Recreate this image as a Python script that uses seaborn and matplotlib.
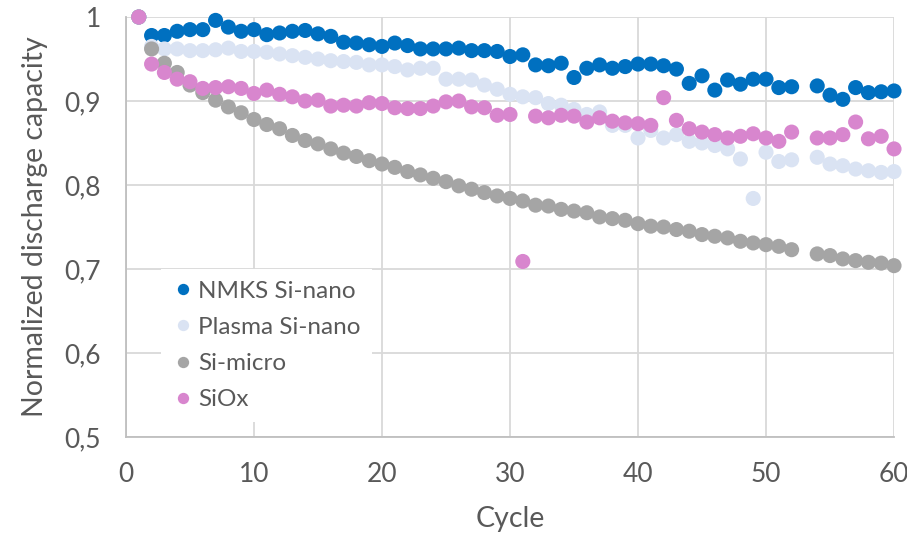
import numpy as np
import pandas as pd
import matplotlib
matplotlib.use("Agg")
import matplotlib.pyplot as plt
from matplotlib.ticker import FuncFormatter
import seaborn as sns

cycles = list(range(1, 53)) + [54, 55, 56, 57, 58, 59, 60]

nmks_si_nano = [1.000, 0.978, 0.978, 0.983, 0.985, 0.985, 0.996, 0.988, 0.983, 0.985,
                0.979, 0.981, 0.983, 0.984, 0.980, 0.977, 0.970, 0.969, 0.967, 0.965,
                0.969, 0.966, 0.962, 0.962, 0.962, 0.963, 0.960, 0.960, 0.959, 0.953,
                0.955, 0.943, 0.942, 0.945, 0.928, 0.939, 0.943, 0.939, 0.941, 0.944,
                0.944, 0.942, 0.938, 0.921, 0.930, 0.913, 0.925, 0.920, 0.926, 0.926,
                0.916, 0.917, 0.918, 0.907, 0.902, 0.916, 0.910, 0.911, 0.912]

plasma_si_nano = [1.000, 0.965, 0.962, 0.962, 0.960, 0.960, 0.961, 0.963, 0.959, 0.959,
                  0.958, 0.956, 0.954, 0.952, 0.950, 0.948, 0.947, 0.946, 0.943, 0.943,
                  0.941, 0.937, 0.939, 0.939, 0.926, 0.926, 0.925, 0.919, 0.914, 0.908,
                  0.905, 0.904, 0.897, 0.895, 0.890, 0.884, 0.887, 0.871, 0.871, 0.856,
                  0.865, 0.856, 0.860, 0.852, 0.850, 0.847, 0.843, 0.831, 0.784, 0.839,
                  0.828, 0.830, 0.833, 0.825, 0.823, 0.819, 0.817, 0.815, 0.816]

si_micro = [1.000, 0.962, 0.945, 0.934, 0.919, 0.910, 0.901, 0.893, 0.886, 0.878,
            0.872, 0.867, 0.859, 0.853, 0.849, 0.843, 0.838, 0.834, 0.829, 0.825,
            0.821, 0.816, 0.812, 0.808, 0.804, 0.799, 0.795, 0.791, 0.787, 0.784,
            0.781, 0.776, 0.775, 0.771, 0.769, 0.767, 0.762, 0.760, 0.758, 0.754,
            0.751, 0.750, 0.747, 0.745, 0.741, 0.739, 0.737, 0.733, 0.731, 0.729,
            0.727, 0.723, 0.718, 0.716, 0.712, 0.710, 0.708, 0.707, 0.704]

siox = [1.000, 0.944, 0.934, 0.926, 0.923, 0.915, 0.916, 0.917, 0.915, 0.909,
        0.913, 0.908, 0.905, 0.900, 0.901, 0.894, 0.895, 0.894, 0.898, 0.897,
        0.892, 0.891, 0.891, 0.894, 0.899, 0.900, 0.893, 0.892, 0.883, 0.884,
        0.709, 0.882, 0.880, 0.883, 0.882, 0.875, 0.880, 0.876, 0.874, 0.873,
        0.871, 0.904, 0.877, 0.867, 0.863, 0.860, 0.856, 0.858, 0.861, 0.856,
        0.852, 0.863, 0.856, 0.856, 0.860, 0.875, 0.855, 0.858, 0.843]

series_names = ["NMKS Si-nano", "Plasma Si-nano", "Si-micro", "SiOx"]
series_colors = ["#0070C0", "#DAE3F3", "#A5A5A5", "#D886CE"]

df = pd.concat(
    [pd.DataFrame({"Cycle": cycles, "Capacity": vals, "Material": name})
     for name, vals in zip(series_names, [nmks_si_nano, plasma_si_nano, si_micro, siox])],
    ignore_index=True,
)

sns.set_theme(style="white")
plt.rcParams["font.family"] = ["Lato", "DejaVu Sans"]
text_color = "#595959"
grid_color = "#D9D9D9"

fig = plt.figure(figsize=(9.07, 5.37), dpi=100)
ax = fig.add_axes([0.1389, 0.1862, 0.9857 - 0.1389, 0.9683 - 0.1862])

sns.scatterplot(data=df, x="Cycle", y="Capacity", hue="Material",
                hue_order=series_names, palette=series_colors,
                s=118, linewidth=0, alpha=1, ax=ax, zorder=3, clip_on=False)

ax.set_xlim(0, 60)
ax.set_ylim(0.5, 1.0)
ax.set_xticks(np.arange(0, 61, 10))
ax.set_yticks(np.arange(0.5, 1.01, 0.1))
ax.yaxis.set_major_formatter(FuncFormatter(
    lambda v, p: "1" if abs(v - 1) < 1e-9 else f"{v:.1f}".replace(".", ",")))

ax.grid(True, color=grid_color, linewidth=1.3, zorder=0)
ax.set_axisbelow(True)
for side in ["top", "right"]:
    ax.spines[side].set_visible(False)
for side in ["left", "bottom"]:
    ax.spines[side].set_color("#BFBFBF")
    ax.spines[side].set_linewidth(1.3)

ax.tick_params(axis="both", length=0, labelsize=19, labelcolor=text_color)
ax.tick_params(axis="x", pad=18)
ax.tick_params(axis="y", pad=18)
ax.set_xlabel("Cycle", fontsize=20.5, color=text_color, labelpad=14)
ax.set_ylabel("Normalized discharge capacity", fontsize=20.5, color=text_color, labelpad=12)

leg = ax.legend(loc="lower left", bbox_to_anchor=(0.046, 0.035), frameon=True,
                facecolor="white", edgecolor="none", fancybox=False, framealpha=1,
                fontsize=17.5, labelspacing=0.62, handlelength=0.8, handletextpad=0.2,
                borderpad=0.5, markerscale=0.75, borderaxespad=0)
for t in leg.get_texts():
    t.set_color(text_color)
leg.set_zorder(5)

fig.savefig("out.png", dpi=100)
